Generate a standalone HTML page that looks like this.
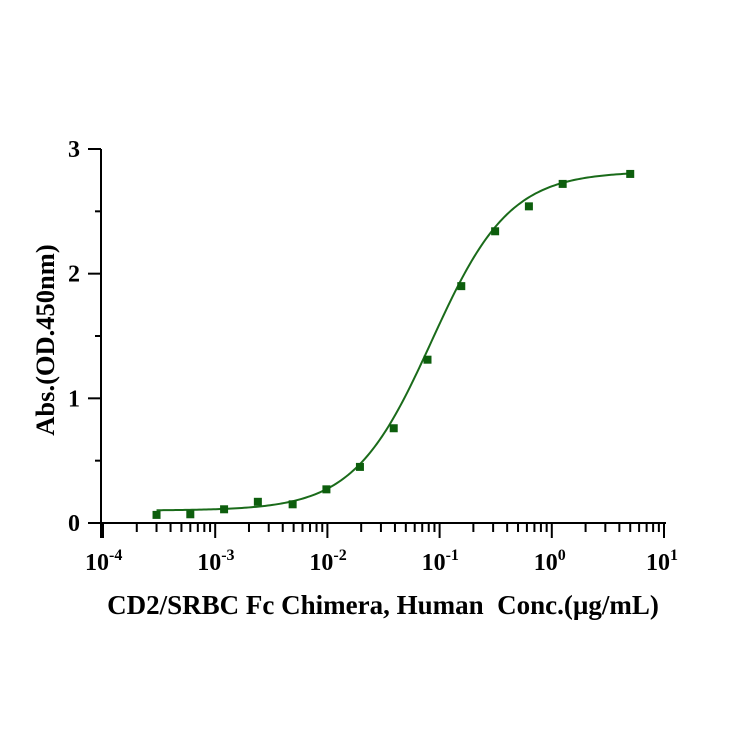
<!DOCTYPE html>
<html><head><meta charset="utf-8"><style>
html,body{margin:0;padding:0;background:#fff;}
svg text{font-family:"Liberation Serif",serif;font-weight:bold;fill:#000;}
</style></head><body>
<svg id="chart" width="744" height="744" viewBox="0 0 744 744" xmlns="http://www.w3.org/2000/svg"></svg>
<script>
const concs = [0.0003,0.0006,0.0012,0.0024,0.0049,0.0098,0.0195,0.039,0.078,0.156,0.3125,0.625,1.25,5];
const absValues = [0.065,0.07,0.11,0.17,0.15,0.27,0.45,0.76,1.31,1.90,2.34,2.54,2.72,2.80];
const fitParams = [0.1,2.82,0.085,1.25]; // bottom, top, EC50, hill
const yTicks = [0,1,2,3];
const xDecades = [-4,-3,-2,-1,0,1];

const svg = document.getElementById('chart');
const NS = 'http://www.w3.org/2000/svg';
const X0=101, X1=664, Y0=523, Y1=149;
const xs = v => X0 + 2 + (Math.log10(v)+4)/5*(X1-X0-2);
const ys = v => Y0 - v/3*(Y0-Y1);
function mk(tag, attrs, parent){const e=document.createElementNS(NS,tag);for(const k in attrs)e.setAttribute(k,attrs[k]);(parent||svg).appendChild(e);return e;}

const axes = mk('g',{stroke:'#000','stroke-width':2,fill:'none'});


mk('line',{x1:X0,y1:Y1,x2:X0,y2:Y0+15},axes);
mk('line',{x1:88,y1:Y0,x2:X1+2,y2:Y0},axes);
yTicks.forEach(t=>{
  mk('line',{x1:88,y1:ys(t),x2:X0,y2:ys(t)},axes);
  if(t<3) mk('line',{x1:95,y1:ys(t+0.5),x2:X0,y2:ys(t+0.5)},axes);
  const tx=mk('text',{x:80,y:ys(t)+8,'text-anchor':'end','font-size':24});
  tx.textContent=t;
  
  
});
xDecades.forEach(d=>{
  const x=xs(Math.pow(10,d));
  mk('line',{x1:x,y1:Y0,x2:x,y2:Y0+15},axes);
  if(d<1) for(let m=2;m<10;m++){const xm=xs(m*Math.pow(10,d));mk('line',{x1:xm,y1:Y0,x2:xm,y2:Y0+9},axes);}
  const tx=mk('text',{x:x-18,y:Y0+47,'font-size':24});
  
  
  tx.innerHTML='10<tspan dy="-10" font-size="16">'+(d<0?'-'+(-d):d)+'</tspan>';
});

const [b,t,ec,h]=fitParams;
let dpath='';
for(let i=0;i<=200;i++){
  const lv=Math.log10(concs[0])+(Math.log10(concs[concs.length-1])-Math.log10(concs[0]))*i/200;
  const v=Math.pow(10,lv);
  const y=b+(t-b)/(1+Math.pow(ec/v,h));
  dpath+=(i?'L':'M')+xs(v).toFixed(2)+','+ys(y).toFixed(2);
}
const curve=mk('path',{d:dpath,stroke:'#1a6b1a','stroke-width':2,fill:'none'});



concs.forEach((c,i)=>{
  const r=mk('rect',{x:xs(c)-4,y:ys(absValues[i])-4,width:8,height:8,fill:'#0d5e0d'});
  
  
});

const yt=mk('text',{x:0,y:0,'font-size':26.5,'text-anchor':'middle',transform:'translate(54,340) rotate(-90)'});
yt.textContent='Abs.(OD.450nm)';


const xt=mk('text',{x:383,y:614,'font-size':27,'text-anchor':'middle'});
xt.textContent='CD2/SRBC Fc Chimera, Human\u00a0 Conc.(\u00b5g/mL)';


</script>
</body></html>
